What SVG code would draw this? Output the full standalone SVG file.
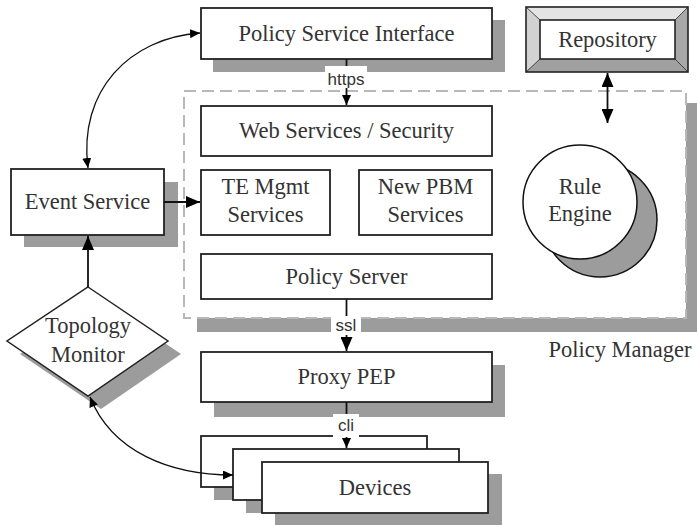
<svg xmlns="http://www.w3.org/2000/svg" width="697" height="525" viewBox="0 0 697 525">
<defs>
<style>
.box{fill:#fff;stroke:#222;stroke-width:1.8}
.sh{fill:#9c9c9c}
.t{font-size:22.5px;fill:#333;text-anchor:middle}
.lbl{font-size:17px;fill:#333;text-anchor:middle}
.c{fill:none;stroke:#111;stroke-width:1.8}
.cc{fill:none;stroke:#111;stroke-width:1.3}
</style>
<marker id="ab" viewBox="0 0 14 12" refX="14" refY="6" markerWidth="14" markerHeight="12" markerUnits="userSpaceOnUse" orient="auto-start-reverse"><path d="M0,0 L14,6 L0,12 z" fill="#000"/></marker>
<marker id="as" viewBox="0 0 10 9" refX="10" refY="4.5" markerWidth="10" markerHeight="9" markerUnits="userSpaceOnUse" orient="auto-start-reverse"><path d="M0,0 L10,4.5 L0,9 z" fill="#000"/></marker>
</defs>
<rect width="697" height="525" fill="#fff"/>

<g font-family="'Liberation Serif', 'Times New Roman', serif">
<g id="policy-manager">
<rect class="sh" x="197" y="103" width="500" height="229"/>
<rect x="184" y="91" width="502" height="227" fill="#fff" stroke="#b8b8b8" stroke-width="2" stroke-dasharray="12,6"/>
<text class="t" x="620" y="357">Policy Manager</text>
</g>

<g id="policy-service-interface">
<rect class="sh" x="213" y="20" width="292" height="52"/>
<rect class="box" x="201" y="8" width="291" height="51"/>
<text class="t" x="346.5" y="41">Policy Service Interface</text>
</g>

<g id="repository">
<polygon points="526,7 688,7 675,20 540,20" fill="#e4e4e4"/>
<polygon points="526,7 540,20 540,59 526,72" fill="#d2d2d2"/>
<polygon points="688,7 688,72 675,59 675,20" fill="#a8a8a8"/>
<polygon points="526,72 688,72 675,59 540,59" fill="#a0a0a0"/>
<rect x="526" y="7" width="162" height="65" fill="none" stroke="#222" stroke-width="1.6"/>
<rect x="540" y="20" width="135" height="39" fill="#fff" stroke="#222" stroke-width="1.6"/>
<path d="M526,7 L540,20 M688,7 L675,20 M526,72 L540,59 M688,72 L675,59" stroke="#222" stroke-width="0.8"/>
<text class="t" x="607.5" y="47">Repository</text>
</g>

<g id="web-services">
<rect class="box" x="201" y="106" width="291" height="50"/>
<text class="t" x="346.5" y="138">Web Services / Security</text>
</g>

<g id="te-mgmt">
<rect class="box" x="201" y="170" width="129" height="65"/>
<text class="t" x="265.5" y="194">TE Mgmt</text>
<text class="t" x="265.5" y="222">Services</text>
</g>

<g id="new-pbm">
<rect class="box" x="359" y="170" width="133" height="65"/>
<text class="t" x="425.5" y="194">New PBM</text>
<text class="t" x="425.5" y="222">Services</text>
</g>

<g id="policy-server">
<rect class="box" x="201" y="254" width="291" height="45"/>
<text class="t" x="346.5" y="284">Policy Server</text>
</g>

<g id="rule-engine">
<circle cx="600" cy="220" r="57" fill="#9c9c9c" stroke="#111" stroke-width="1.5"/>
<circle cx="580" cy="202" r="57" fill="#fff" stroke="#111" stroke-width="1.5"/>
<text class="t" x="580" y="194">Rule</text>
<text class="t" x="580" y="221">Engine</text>
</g>

<g id="event-service">
<rect class="sh" x="24" y="182" width="154" height="65"/>
<rect class="box" x="11" y="169" width="153" height="66"/>
<text class="t" x="87.5" y="209">Event Service</text>
</g>

<g id="topology-monitor">
<polygon class="sh" points="101,300 181,354 101,409 20,354"/>
<polygon points="88,287 168,341 88,396 7,341" fill="#fff" stroke="#222" stroke-width="1.5"/>
<text class="t" x="88" y="333">Topology</text>
<text class="t" x="88" y="362">Monitor</text>
</g>

<g id="proxy-pep">
<rect class="sh" x="214" y="365" width="291" height="52"/>
<rect class="box" x="201" y="352" width="291" height="50"/>
<text class="t" x="346.5" y="384">Proxy PEP</text>
</g>

<g id="devices">
<rect class="sh" x="214" y="449" width="226" height="51"/>
<rect class="box" x="201" y="436" width="226" height="51"/>
<rect class="sh" x="246" y="462" width="226" height="51"/>
<rect class="box" x="233" y="449" width="226" height="51"/>
<rect class="sh" x="275" y="474" width="227" height="51"/>
<rect class="box" x="262" y="462" width="226" height="51"/>
<text class="t" x="375" y="495">Devices</text>
</g>
</g>

<g id="connectors" font-family="'Liberation Sans', Arial, sans-serif">
<line class="c" x1="346.5" y1="59" x2="346.5" y2="105" marker-end="url(#as)"/>
<rect x="325" y="66" width="42" height="22" fill="#fff"/>
<text class="lbl" x="346" y="85">https</text>

<line class="c" x1="346.5" y1="299" x2="346.5" y2="351" marker-end="url(#ab)"/>
<rect x="331" y="316" width="30" height="19" fill="#fff"/>
<text class="lbl" x="346" y="331">ssl</text>

<line class="c" x1="346.5" y1="402" x2="346.5" y2="448" marker-end="url(#as)"/>
<rect x="333" y="414" width="26" height="23" fill="#fff"/>
<text class="lbl" x="346" y="431">cli</text>

<line class="c" x1="607.5" y1="73" x2="607.5" y2="123" marker-start="url(#ab)" marker-end="url(#ab)"/>

<line class="c" x1="164" y1="202" x2="200" y2="202" marker-end="url(#ab)"/>
<line class="c" x1="88" y1="287" x2="88" y2="236" marker-end="url(#ab)"/>

<path class="cc" d="M88,168 C78,90 130,38 200,33" marker-start="url(#as)" marker-end="url(#as)"/>
<path class="cc" d="M90,397 C112,452 170,475 233,475" marker-start="url(#as)" marker-end="url(#as)"/>
</g>
</svg>
